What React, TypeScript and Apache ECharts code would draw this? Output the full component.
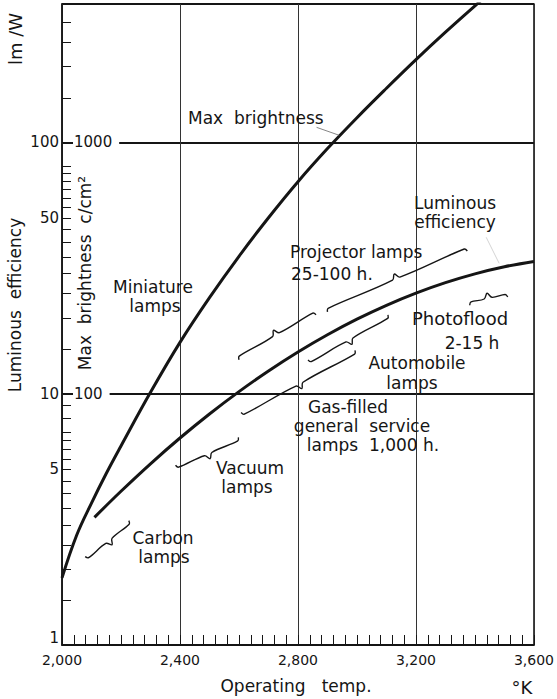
import React, { useEffect, useRef } from 'react';
import * as echarts from 'echarts';

// ---- data ----
const brightnessTemps = [2000, 2050, 2100, 2150, 2200, 2300, 2400, 2500, 2600, 2700, 2800, 2900, 3000, 3100, 3200, 3300, 3400, 3460];
const maxBrightness = [18.5, 27.4, 36.7, 48.1, 61.9, 101.2, 160, 241, 352, 501, 697, 944, 1253, 1641, 2133, 2742, 3491, 4027];

const efficiencyTemps = [2110, 2200, 2300, 2400, 2500, 2600, 2700, 2800, 2900, 3000, 3100, 3200, 3300, 3400, 3500, 3600];
const luminousEfficiency = [3.22, 4.09, 5.26, 6.66, 8.3, 10.19, 12.31, 14.65, 17.16, 19.79, 22.47, 25.12, 27.65, 29.97, 31.98, 33.58];

// lamp ranges: [T start, lm/W start, T end, lm/W end, brace side]
const carbonLamps = [2085, 2.2, 2233, 3.06, -1];
const vacuumLamps = [2389, 5.06, 2602, 6.53, -1];
const gasFilledLamps = [2612, 8.21, 2998, 14.5, -1];
const automobileLamps = [2839, 13.3, 3110, 20.1, -1];
const projectorLampsLow = [2595, 13.97, 2856, 21.1, 1];
const projectorLampsHigh = [2896, 21.7, 3370, 37.9, 1];
const photofloodLamps = [3380, 23.1, 3509, 24.9, 1];

const brightnessLeader = [[2863, 1147], [2940, 1066]];
const efficiencyLeader = [[3438, 41.9], [3482, 33.0]];

const efficiencyLabels = [1, 5, 10, 50, 100];
const brightnessLabels = [100, 1000];
const efficiencyMinorTicks = [1.5, 2, 2.5, 3, 3.5, 4, 4.5, 5, 5.5, 6, 6.5, 7, 8, 9, 10, 15, 20, 25, 30, 35, 40, 45, 50, 55, 60, 65, 70, 75, 80, 100, 150, 200, 250, 300];

const FONT = '"DejaVu Sans", sans-serif';
const INK = '#151515';

export default function App() {
  const ref = useRef<HTMLDivElement>(null);

  useEffect(() => {
    if (!ref.current) return;
    const chart = echarts.init(ref.current, undefined, { renderer: 'svg' });

    const brackets = [carbonLamps, vacuumLamps, gasFilledLamps, automobileLamps, projectorLampsLow, projectorLampsHigh, photofloodLamps];

    const txt = (text: string, x: number, y: number, opts: any = {}) => ({
      type: 'text',
      x,
      y,
      z: 20,
      rotation: opts.rotation || 0,
      style: {
        text,
        fill: INK,
        fontFamily: FONT,
        fontSize: opts.size || 17,
        align: opts.align || 'center',
        verticalAlign: 'middle',
      },
    });

    const option: any = {
      animation: false,
      backgroundColor: '#fff',
      grid: { left: 62, top: 4, width: 473, height: 641, show: true, borderColor: INK, borderWidth: 1.5 },
      xAxis: {
        type: 'value',
        min: 2000,
        max: 3600,
        interval: 400,
        axisLine: { lineStyle: { color: INK, width: 1.5 } },
        axisTick: { show: true, inside: true, length: 10, lineStyle: { color: INK, width: 1 } },
        minorTick: { show: true, splitNumber: 10, length: 10, lineStyle: { color: INK, width: 1 } },
        axisLabel: {
          color: INK,
          fontFamily: FONT,
          fontSize: 14,
          margin: 8,
          formatter: (v: number) => v.toLocaleString('en-US'),
        },
        splitLine: { show: true, lineStyle: { color: '#333', width: 1 } },
      },
      yAxis: [
        {
          type: 'log',
          logBase: 10,
          min: 1,
          max: 355,
          axisLine: { show: true, lineStyle: { color: INK, width: 1.5 } },
          axisTick: { show: false },
          axisLabel: {
            color: INK,
            fontFamily: FONT,
            fontSize: 15,
            margin: 3,
            customValues: efficiencyLabels,
            formatter: (v: number) => (Math.round(v) === 1 ? '{low|1}' : String(Math.round(v))),
            rich: { low: { fontFamily: FONT, fontSize: 15, color: INK, padding: [0, 0, 14, 0] } },
          },
          splitLine: { show: true, lineStyle: { color: INK, width: 2 } },
        },
        {
          type: 'log',
          logBase: 10,
          min: 10,
          max: 3550,
          z: 5,
          position: 'left',
          axisLine: { show: false },
          axisTick: { show: false },
          splitLine: { show: false },
          axisLabel: {
            inside: true,
            margin: 11,
            color: INK,
            fontFamily: FONT,
            fontSize: 15,
            backgroundColor: '#fff',
            padding: [2, 7, 2, 1],
            customValues: brightnessLabels,
            formatter: (v: number) => String(Math.round(v)),
          },
        },
        {
          type: 'log',
          logBase: 10,
          min: 1,
          max: 355,
          position: 'left',
          axisLine: { show: false },
          axisLabel: { show: false },
          splitLine: { show: false },
          axisTick: { show: true, inside: true, length: 9, customValues: efficiencyMinorTicks, lineStyle: { color: INK, width: 1 } },
        },
      ],
      series: [
        {
          name: 'Max brightness',
          type: 'line',
          yAxisIndex: 1,
          smooth: 0.4,
          showSymbol: false,
          clip: true,
          lineStyle: { color: INK, width: 3 },
          data: brightnessTemps.map((t, i) => [t, maxBrightness[i]]),
        },
        {
          name: 'Luminous efficiency',
          type: 'line',
          yAxisIndex: 0,
          smooth: 0.4,
          showSymbol: false,
          lineStyle: { color: INK, width: 3 },
          data: efficiencyTemps.map((t, i) => [t, luminousEfficiency[i]]),
        },
        {
          type: 'custom',
          yAxisIndex: 0,
          clip: false,
          encode: { x: [0, 2], y: [1, 3] },
          data: brackets,
          renderItem: (_params: any, api: any) => {
            const a = api.coord([api.value(0), api.value(1)]);
            const b = api.coord([api.value(2), api.value(3)]);
            const side = api.value(4);
            const dx = b[0] - a[0];
            const dy = b[1] - a[1];
            const len = Math.hypot(dx, dy);
            const ux = dx / len;
            const uy = dy / len;
            const px = uy * side;
            const py = -ux * side;
            const mx = (a[0] + b[0]) / 2;
            const my = (a[1] + b[1]) / 2;
            const pts = [
              [a[0] - px * 3, a[1] - py * 3],
              [a[0] + ux * 2, a[1] + uy * 2],
              [mx - ux * 4, my - uy * 4],
              [mx + px * 5, my + py * 5],
              [mx + ux * 4, my + uy * 4],
              [b[0] - ux * 2, b[1] - uy * 2],
              [b[0] - px * 3, b[1] - py * 3],
            ];
            return {
              type: 'polyline',
              shape: { points: pts, smooth: 0.35 },
              style: { stroke: INK, lineWidth: 1.4, fill: null },
            };
          },
        },
        {
          type: 'line',
          yAxisIndex: 1,
          showSymbol: false,
          lineStyle: { color: '#666', width: 0.8 },
          data: brightnessLeader,
        },
        {
          type: 'line',
          yAxisIndex: 0,
          showSymbol: false,
          lineStyle: { color: '#d4d4d4', width: 1 },
          data: efficiencyLeader,
        },
      ],
      graphic: [
        txt('lm /W', 15, 39, { rotation: Math.PI / 2, size: 18 }),
        txt('Luminous  efficiency', 15, 305, { rotation: Math.PI / 2, size: 17 }),
        txt('Max  brightness  c/cm²', 85, 273, { rotation: Math.PI / 2, size: 17 }),
        txt('Max  brightness', 188, 118, { align: 'left' }),
        txt('Miniature', 153, 287),
        txt('lamps', 155, 306),
        txt('Luminous', 455, 203),
        txt('efficiency', 455, 222),
        txt('Projector lamps', 290, 252, { align: 'left' }),
        txt('25-100 h.', 291, 274, { align: 'left' }),
        txt('Photoflood', 460, 318, { size: 18 }),
        txt('2-15 h', 472, 343),
        txt('Automobile', 417, 363),
        txt('lamps', 412, 383),
        txt('Gas-filled', 348, 407),
        txt('general  service', 362, 426),
        txt('lamps  1,000 h.', 373, 445),
        txt('Vacuum', 250, 468),
        txt('lamps', 247, 487),
        txt('Carbon', 163, 538),
        txt('lamps', 164, 557),
        txt('Operating   temp.', 296, 686),
        txt('°K', 522, 687, { size: 18 }),
      ],
    };

    chart.setOption(option);
    return () => chart.dispose();
  }, []);

  return (
    <div
      ref={ref}
      style={{ position: 'fixed', left: 0, top: 0, width: 557, height: 699, background: '#fff' }}
    />
  );
}
